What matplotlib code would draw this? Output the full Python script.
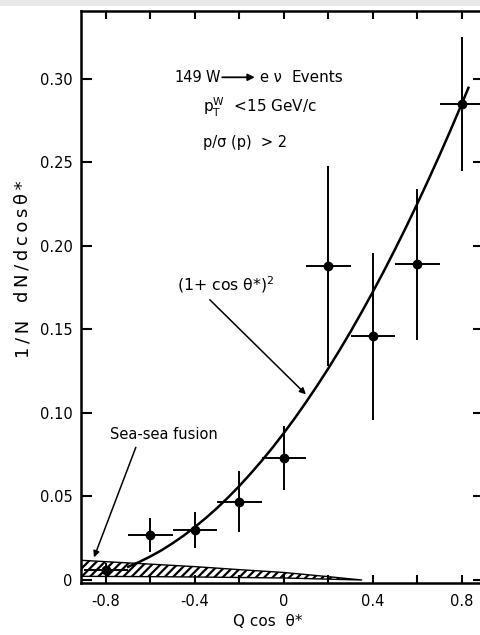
import matplotlib
matplotlib.use("Agg")
import matplotlib.pyplot as plt
from matplotlib.patches import Rectangle

plt.rcParams['font.family'] = ['DejaVu Sans']
plt.rcParams['hatch.linewidth'] = 1.6

# measured points (Q cos theta*, 1/N dN/dcos)
pt_x = [-0.8, -0.6, -0.4, -0.2, 0.0, 0.2, 0.4, 0.6, 0.8]
pt_y = [0.006, 0.027, 0.030, 0.047, 0.073, 0.188, 0.146, 0.189, 0.285]
pt_yerr = [0.004, 0.010, 0.011, 0.018, 0.019, 0.060, 0.050, 0.045, 0.040]
pt_xerr = [0.1] * 9

# (1+cos)^2 curve
curve_x = [-0.70, -0.65, -0.60, -0.55, -0.50, -0.45, -0.40, -0.35, -0.30,
           -0.25, -0.20, -0.15, -0.10, -0.05, 0.00, 0.05, 0.10, 0.15,
           0.20, 0.25, 0.30, 0.35, 0.40, 0.45, 0.50, 0.55, 0.60, 0.65,
           0.70, 0.75, 0.80, 0.83]
curve_y = [0.0079, 0.0108, 0.0141, 0.0178, 0.0220, 0.0266, 0.0317, 0.0372,
           0.0431, 0.0495, 0.0563, 0.0636, 0.0713, 0.0794, 0.0880, 0.0970,
           0.1065, 0.1164, 0.1267, 0.1375, 0.1487, 0.1604, 0.1725, 0.1850,
           0.1980, 0.2114, 0.2253, 0.2396, 0.2543, 0.2695, 0.2851, 0.2947]

# sea-sea fusion band
band_x = [-0.912, -0.6, -0.4, -0.2, 0.0, 0.2, 0.35]
band_lo = [0.0022, 0.0020, 0.0018, 0.0015, 0.0012, 0.0005, 0.0]
band_hi = [0.0118, 0.0095, 0.0080, 0.0062, 0.0045, 0.0020, 0.0]

yticks = [0, 0.05, 0.10, 0.15, 0.20, 0.25, 0.30]
ytick_labels = ['0', '0.05', '0.10', '0.15', '0.20', '0.25', '0.30']
xticks = [-0.8, -0.4, 0, 0.4, 0.8]
xtick_labels = ['-0.8', '-0.4', '0', '0.4', '0.8']
xminor = [-0.6, -0.2, 0.2, 0.6]

fig = plt.figure(figsize=(4.8, 6.35), dpi=100)
ax = fig.add_axes([81 / 480, 1 - 583 / 635, 403 / 480, 572 / 635])

ax.fill_between(band_x, band_lo, band_hi, facecolor='white', edgecolor='black',
                hatch='////', linewidth=1.0, zorder=1)
ax.plot(curve_x, curve_y, color='black', lw=1.8, zorder=3)
ax.errorbar(pt_x, pt_y, yerr=pt_yerr, xerr=pt_xerr, fmt='o', color='black',
            ms=6, elinewidth=1.4, capsize=0, zorder=4)

ax.set_xlim(-0.912, 0.9)
ax.set_ylim(-0.0018, 0.3407)

ax.set_yticks(yticks)
ax.set_yticklabels(ytick_labels)
ax.set_xticks(xticks)
ax.set_xticklabels(xtick_labels)
ax.set_xticks(xminor, minor=True)
ax.tick_params(axis='both', which='both', direction='in', width=1.5,
               top=True, right=True, labelsize=10.5)
ax.tick_params(axis='y', length=8, pad=6)
ax.tick_params(axis='x', which='major', length=6, pad=8)
ax.tick_params(axis='x', which='minor', length=6)
for s in ax.spines.values():
    s.set_linewidth(1.8)

fs = 10.5
ax.text(-0.49, 0.301, '149', fontsize=fs, va='center', ha='left')
ax.text(-0.352, 0.301, 'W', fontsize=fs, va='center', ha='left')
ax.annotate('', xy=(-0.118, 0.301), xytext=(-0.29, 0.301),
            arrowprops=dict(arrowstyle='-|>', color='black', lw=1.3,
                            mutation_scale=10))
ax.text(-0.108, 0.301, 'e ν', fontsize=fs, va='center', ha='left')
ax.text(0.036, 0.301, 'Events', fontsize=fs + 0.5, va='center', ha='left')
ax.text(-0.364, 0.283, r'$\mathregular{p_T^W}$  <15 GeV/c', fontsize=fs + 0.5,
        va='center', ha='left')
ax.text(-0.364, 0.262, 'p/σ (p)  > 2', fontsize=fs, va='center', ha='left')

ax.text(-0.48, 0.177, r'(1+ cos θ*)$^2$', fontsize=fs + 0.8, va='center', ha='left')
ax.annotate('', xy=(0.108, 0.110), xytext=(-0.342, 0.169),
            arrowprops=dict(arrowstyle='-|>', color='black', lw=1.1,
                            mutation_scale=9))

ax.text(-0.782, 0.0874, 'Sea-sea fusion', fontsize=fs, va='center', ha='left')
ax.annotate('', xy=(-0.858, 0.012), xytext=(-0.661, 0.081),
            arrowprops=dict(arrowstyle='-|>', color='black', lw=1.1,
                            mutation_scale=9))

thin = '\u2009'
fig.text(23 / 480, 1 - 241 / 635, thin.join('dN/dcosθ*'), rotation=90,
         fontsize=13, ha='center', va='center')
fig.text(23 / 480, 1 - 339 / 635, thin.join('1/N'), rotation=90,
         fontsize=13, ha='center', va='center')
fig.text(268 / 480, 1 - 621 / 635, 'Q cos  θ*', fontsize=11,
         ha='center', va='center')

fig.patches.append(Rectangle((0, 1 - 6 / 635), 1, 6 / 635, transform=fig.transFigure,
                             facecolor='#e8e8e8', edgecolor='none', zorder=10))

fig.savefig('out.png', dpi=100)
